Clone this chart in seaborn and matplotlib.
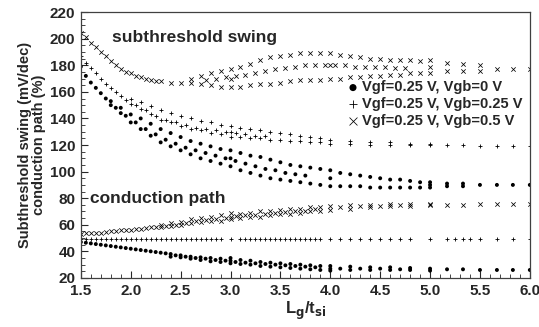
import matplotlib
matplotlib.use("Agg")
import matplotlib.pyplot as plt
import seaborn as sns
from matplotlib.ticker import MultipleLocator

# subthreshold swing, Vgb = 0 V (dots)
ss0_x = [1.50, 1.55, 1.60, 1.65, 1.70, 1.75, 1.80, 1.80, 1.90, 1.90, 2.00, 2.00, 2.10, 2.10,
         2.20, 2.20, 2.30, 2.30, 2.40, 2.40, 2.50, 2.50, 2.60, 2.60, 2.70, 2.70, 2.80, 2.80,
         2.90, 2.90, 3.00, 3.00, 3.00, 3.10, 3.10, 3.20, 3.20, 3.30, 3.30, 3.40, 3.40, 3.50,
         3.50, 3.60, 3.60, 3.70, 3.70, 3.80, 3.80, 3.90, 3.90, 4.00, 4.00, 4.00, 4.10, 4.10,
         4.20, 4.20, 4.30, 4.30, 4.40, 4.40, 4.50, 4.50, 4.60, 4.60, 4.70, 4.70, 4.80, 4.80,
         4.90, 4.90, 5.00, 5.00, 5.00, 5.17, 5.17, 5.33, 5.33, 5.50, 5.67, 5.83, 6.00,
         1.85, 1.95, 2.05, 2.15, 2.25, 2.35, 2.45, 2.55, 2.65, 2.75, 2.85, 2.95, 3.05, 3.15,
         3.25, 3.35, 3.45, 3.55, 3.65, 3.75]
ss0_y = [179, 172, 167, 163, 159, 155, 150, 153, 144, 148, 137, 143, 132, 140,
         127, 136, 122, 132, 119, 129, 116, 126, 113, 123, 110, 121, 108, 119,
         106, 117, 104, 110, 116, 101, 114, 99, 112, 97, 111, 95, 109, 94,
         107, 93, 105, 92, 104, 91, 103, 90, 102, 89, 95, 101, 89, 99,
         89, 98, 89, 97, 88, 96, 88, 95, 88, 94, 88, 94, 88, 93,
         88, 92, 88, 90, 92, 89, 91, 89, 91, 90, 90, 90, 90,
         148, 142, 137, 132, 128, 124, 121, 118, 116, 114, 112, 110, 108, 106,
         104, 102, 101, 99, 98, 97]

# subthreshold swing, Vgb = 0.25 V (plus)
ss25_x = [1.50, 1.55, 1.60, 1.65, 1.70, 1.75, 1.80, 1.85, 1.90, 1.95, 2.00, 2.00, 2.10, 2.10,
          2.20, 2.20, 2.30, 2.30, 2.40, 2.40, 2.50, 2.50, 2.60, 2.60, 2.70, 2.70, 2.80, 2.80,
          2.90, 2.90, 3.00, 3.00, 3.00, 3.10, 3.10, 3.20, 3.20, 3.30, 3.30, 3.40, 3.40, 3.50,
          3.50, 3.60, 3.60, 3.70, 3.70, 3.80, 3.80, 3.90, 3.90, 4.00, 4.00, 4.20, 4.20, 4.40,
          4.40, 4.60, 4.60, 4.80, 4.80, 5.00, 5.00, 5.17, 5.33, 5.50, 5.67, 5.83, 6.00,
          2.05, 2.15, 2.25, 2.35, 2.45, 2.55, 2.65, 2.75, 2.85, 2.95, 3.05, 3.15, 3.25, 3.35]
ss25_y = [187, 182, 178, 174, 170, 166, 163, 160, 157, 154, 151, 155, 147, 152,
          143, 149, 139, 146, 137, 144, 134, 142, 132, 140, 131, 138, 129, 137,
          128, 135, 126, 130, 134, 126, 133, 125, 132, 125, 131, 124, 130, 124,
          129, 123, 128, 123, 127, 122, 126, 122, 125, 121, 124, 121, 123, 120,
          122, 120, 122, 120, 121, 120, 121, 120, 120, 119, 119, 119, 119,
          150, 146, 142, 139, 137, 135, 133, 132, 131, 130, 129, 128, 127, 127]

# subthreshold swing, Vgb = 0.5 V (x)
ss50_x = [1.50, 1.55, 1.60, 1.65, 1.70, 1.75, 1.80, 1.85, 1.90, 1.95, 2.00, 2.05, 2.10, 2.15,
          2.20, 2.25, 2.30, 2.40, 2.50, 2.60, 2.60, 2.70, 2.70, 2.80, 2.80, 2.90, 2.90, 3.00,
          3.00, 3.00, 3.10, 3.10, 3.20, 3.20, 3.30, 3.30, 3.40, 3.40, 3.50, 3.50, 3.60, 3.60,
          3.70, 3.70, 3.80, 3.80, 3.90, 3.90, 4.00, 4.00, 4.00, 4.10, 4.10, 4.20, 4.20, 4.30,
          4.30, 4.40, 4.40, 4.50, 4.50, 4.60, 4.60, 4.70, 4.70, 4.80, 4.80, 4.90, 4.90, 5.00,
          5.00, 5.00, 5.17, 5.17, 5.33, 5.33, 5.50, 5.50, 5.67, 5.83, 6.00,
          2.75, 2.85, 2.95, 3.05, 3.15, 3.25, 3.35, 3.45, 3.55, 3.65, 3.75, 3.85, 3.95, 4.05,
          4.15, 4.25, 4.35, 4.45, 4.55, 4.65, 4.75]
ss50_y = [204, 201, 197, 194, 190, 187, 183, 180, 177, 175, 174, 172, 171, 170,
          169, 168, 168, 167, 167, 167, 170, 166, 172, 165, 174, 164, 176, 164,
          170, 177, 164, 179, 165, 181, 166, 184, 166, 186, 167, 187, 168, 188,
          169, 189, 169, 189, 169, 189, 170, 180, 189, 170, 188, 171, 187, 171,
          186, 172, 185, 172, 185, 173, 184, 173, 184, 174, 184, 174, 183, 174,
          179, 184, 176, 182, 176, 181, 176, 180, 177, 177, 177,
          169, 170, 171, 172, 173, 174, 176, 177, 178, 179, 180, 180, 180, 180,
          180, 179, 179, 179, 179, 178, 178]

# conduction path, Vgb = 0 V (dots)
cp0_x = [1.50, 1.60, 1.70, 1.80, 1.90, 2.00, 2.10, 2.20, 2.30, 2.40, 2.40, 2.50, 2.50, 2.60,
         2.60, 2.70, 2.70, 2.80, 2.80, 2.90, 2.90, 3.00, 3.00, 3.00, 3.10, 3.10, 3.20, 3.20,
         3.30, 3.30, 3.40, 3.40, 3.50, 3.50, 3.60, 3.60, 3.70, 3.70, 3.80, 3.80, 3.90, 3.90,
         4.00, 4.00, 4.00, 4.20, 4.20, 4.40, 4.40, 4.60, 4.60, 4.80, 4.80, 5.00, 5.00, 5.17,
         5.33, 5.50, 5.67, 5.83, 6.00,
         1.55, 1.65, 1.75, 1.85, 1.95, 2.05, 2.15, 2.25, 2.35, 2.45, 2.55, 2.65, 2.75, 2.85,
         2.95, 3.05, 3.15, 3.25, 3.35, 3.45, 3.55, 3.65, 3.75, 3.85, 4.10, 4.30, 4.50, 4.70]
cp0_y = [47, 46, 45, 44, 43, 42, 41, 40, 39, 38, 36, 37, 35.5, 36,
         34.5, 35.5, 33.5, 35, 32.5, 34.5, 32, 35, 33, 31, 33.5, 30.5, 33, 30,
         32, 29, 31.5, 28.5, 31, 28, 30.5, 27.5, 30, 27, 29.5, 26.5, 29, 26,
         29, 27, 25.5, 28.5, 26, 28, 26, 28, 26, 27.5, 26, 27, 25.5, 26.5,
         26.5, 26, 26, 26, 26,
         46.5, 45.5, 44.5, 43.5, 42.5, 41.5, 40.5, 39.5, 38.5, 37, 36, 35, 34.5, 33.5,
         33, 32, 31.5, 31, 30.5, 30, 29.5, 29, 28.5, 28, 27, 27, 27, 26.5]

# conduction path, Vgb = 0.25 V (plus)
cp25_x = [1.50, 1.60, 1.70, 1.80, 1.90, 2.00, 2.10, 2.20, 2.30, 2.40, 2.50, 2.60, 2.70, 2.80,
          2.90, 3.00, 3.10, 3.20, 3.30, 3.40, 3.50, 3.60, 3.70, 3.80, 3.90, 4.00, 4.20, 4.40,
          4.60, 4.80, 5.00, 5.17, 5.33, 5.50, 5.67, 5.83, 6.00,
          1.55, 1.65, 1.75, 1.85, 1.95, 2.05, 2.15, 2.25, 2.35, 2.45, 2.55, 2.65, 2.75, 2.85,
          3.15, 3.25, 3.35, 3.45, 3.55, 3.65, 3.75, 3.85, 4.10, 4.30, 4.50, 4.70, 5.25, 5.40]
cp25_y = [49, 49, 49, 49, 49, 49, 49, 49, 49, 49, 49, 49, 49, 49,
          49, 49, 49, 49, 49, 49, 49, 49, 49, 49, 49, 49, 49, 49,
          49, 49, 49, 49, 49, 49, 49, 49, 49,
          49, 49, 49, 49, 49, 49, 49, 49, 49, 49, 49, 49, 49, 49,
          49, 49, 49, 49, 49, 49, 49, 49, 49, 49, 49, 49, 49, 49]

# conduction path, Vgb = 0.5 V (x)
cp50_x = [1.50, 1.60, 1.70, 1.80, 1.90, 2.00, 2.10, 2.20, 2.30, 2.30, 2.40, 2.40, 2.50, 2.50,
          2.60, 2.60, 2.70, 2.70, 2.80, 2.80, 2.90, 2.90, 3.00, 3.00, 3.00, 3.10, 3.10, 3.20,
          3.20, 3.30, 3.30, 3.40, 3.40, 3.50, 3.50, 3.60, 3.60, 3.70, 3.70, 3.80, 3.80, 3.90,
          3.90, 4.00, 4.00, 4.20, 4.20, 4.40, 4.40, 4.60, 4.60, 4.80, 4.80, 5.00, 5.00, 5.17,
          5.33, 5.50, 5.67, 5.83, 6.00,
          1.55, 1.65, 1.75, 1.85, 1.95, 2.05, 2.15, 2.25, 2.35, 2.45, 2.55, 2.65, 2.75, 2.85,
          2.95, 3.05, 3.15, 3.25, 3.35, 3.45, 3.55, 3.65, 3.75, 3.85, 4.10, 4.30, 4.50, 4.70]
cp50_y = [53, 54, 54, 55, 56, 56, 57, 58, 58, 60, 59, 61, 60, 62,
          61, 64, 62, 65, 63, 66, 63, 67, 64, 66, 69, 65, 68, 66,
          69, 66, 70, 67, 70, 68, 71, 68, 72, 69, 72, 70, 73, 70,
          73, 71, 74, 72, 75, 73, 75, 74, 76, 74, 76, 75, 76, 75,
          75, 76, 76, 76, 76,
          53.5, 54, 54.5, 55.5, 56, 56.5, 57.5, 58.5, 59, 60, 61, 62.5, 63.5, 64.5,
          65, 66.5, 67, 67.5, 68, 68.5, 69.5, 70, 70.5, 71.5, 73, 74, 74.5, 75]

sns.set_style("ticks")
plt.rcParams["font.family"] = ["Liberation Sans", "DejaVu Sans"]
plt.rcParams["font.weight"] = "bold"

fig = plt.figure(figsize=(5.39, 3.27), dpi=100)
ax = fig.add_axes([0.150, 0.150, 0.833, 0.813])

dot_kw = dict(marker="o", s=8, color="black", edgecolor="none")
plus_kw = dict(marker="+", s=12, color="black", linewidth=0.6)
x_kw = dict(marker="x", s=10, color="black", linewidth=0.55)

sns.scatterplot(x=ss0_x, y=ss0_y, ax=ax, label="Vgf=0.25 V, Vgb=0 V", **dot_kw)
sns.scatterplot(x=ss25_x, y=ss25_y, ax=ax, label="Vgf=0.25 V, Vgb=0.25 V", **plus_kw)
sns.scatterplot(x=ss50_x, y=ss50_y, ax=ax, label="Vgf=0.25 V, Vgb=0.5 V", **x_kw)
sns.scatterplot(x=cp0_x, y=cp0_y, ax=ax, **dot_kw)
sns.scatterplot(x=cp25_x, y=cp25_y, ax=ax, **plus_kw)
sns.scatterplot(x=cp50_x, y=cp50_y, ax=ax, **x_kw)

ax.set_xlim(1.5, 6.0)
ax.set_ylim(20, 220)
ax.xaxis.set_major_locator(MultipleLocator(0.5))
ax.xaxis.set_minor_locator(MultipleLocator(0.1))
ax.yaxis.set_major_locator(MultipleLocator(20))
ax.yaxis.set_minor_locator(MultipleLocator(5))
ax.tick_params(which="major", direction="in", length=5, width=0.8, labelsize=11, pad=4)
ax.tick_params(which="minor", direction="in", length=3, width=0.6)
for lab in ax.get_xticklabels() + ax.get_yticklabels():
    lab.set_fontweight("bold")
ax.xaxis.set_major_formatter(plt.FuncFormatter(lambda v, p: f"{v:.1f}"))
for sp in ax.spines.values():
    sp.set_visible(True)
    sp.set_color("#404040")
    sp.set_linewidth(0.9)

ax.set_xlabel("L$_\\mathbf{g}$/t$_\\mathbf{si}$", fontsize=12, fontweight="bold", labelpad=2)
ax.set_ylabel("Subthreshold swing (mV/dec)\nconduction path (%)", fontsize=10.5,
              fontweight="bold", labelpad=3, linespacing=1.0)

ax.text(1.81, 201, "subthreshold swing", fontsize=12.5, fontweight="bold", va="center")
ax.text(1.59, 80, "conduction path", fontsize=12.5, fontweight="bold", va="center")

leg = ax.legend(loc="upper left", bbox_to_anchor=(0.585, 0.765), frameon=False,
                fontsize=10.5, markerscale=1.8, handlelength=0.5, handletextpad=0.35,
                labelspacing=0.2, borderaxespad=0)
for t in leg.get_texts():
    t.set_fontweight("bold")

fig.savefig("out.png", dpi=100)
